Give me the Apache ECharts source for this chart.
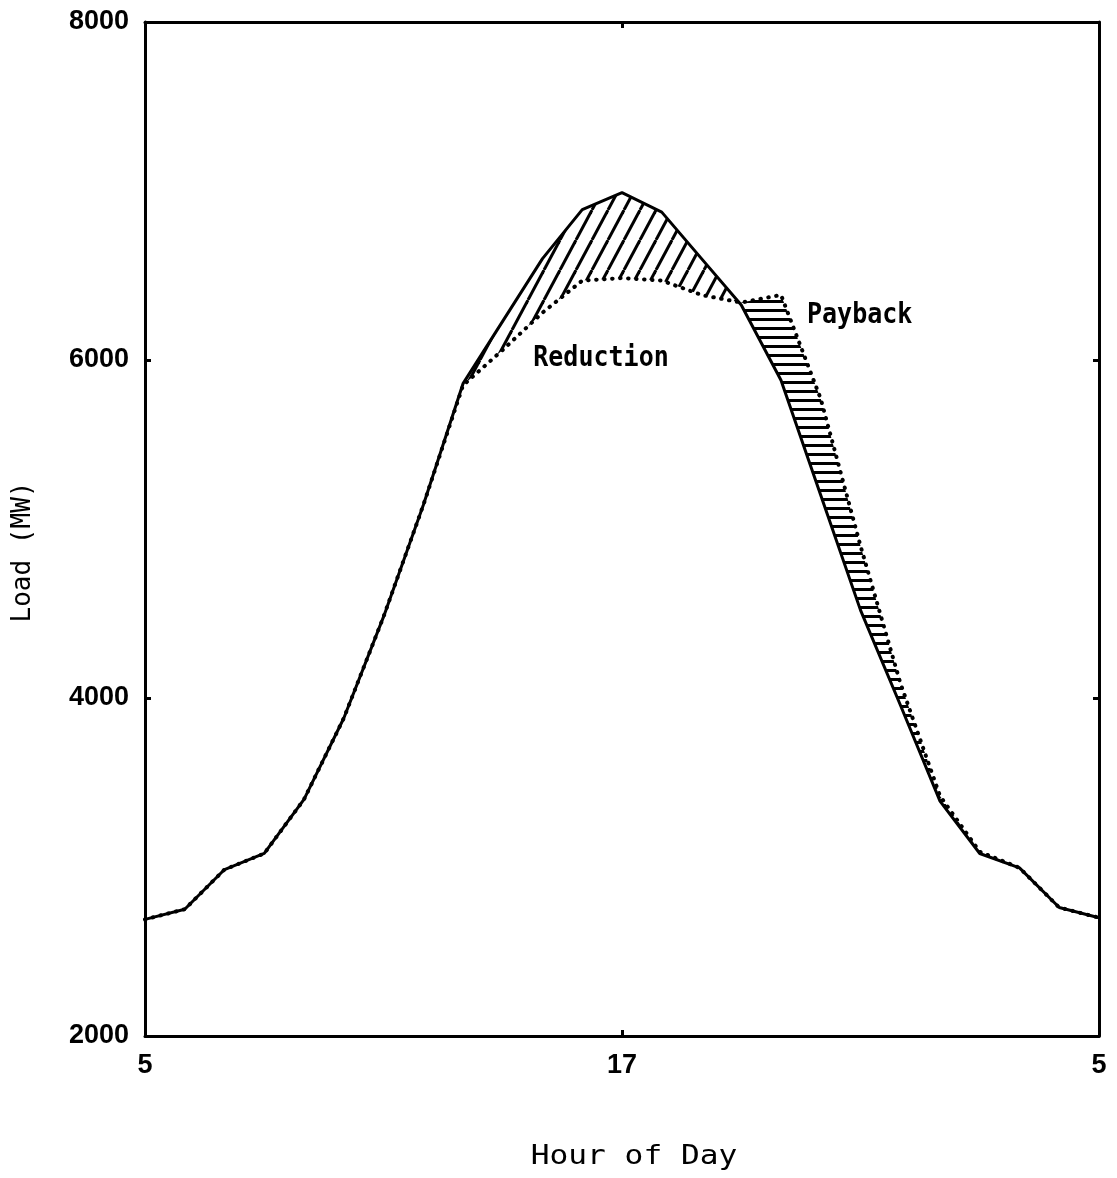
<!DOCTYPE html>
<html>
<head>
<meta charset="utf-8">
<script src="https://cdn.jsdelivr.net/npm/echarts@6/dist/echarts.min.js"></script>
<style>
html,body{margin:0;padding:0;background:#fff;}
#chart{width:1117px;height:1178px;}
</style>
</head>
<body>
<div id="chart"></div>
<script>
// Hour of day, from 5 to 5 the next day (x categories)
const hours = ['5','6','7','8','9','10','11','12','13','14','15','16','17','18','19','20','21','22','23','24','1','2','3','4','5'];
// Tick labels shown on the hour axis
const hourTickLabels = ['5','17','5'];
// Load axis ticks (MW)
const loadTicks = [2000, 4000, 6000, 8000];
// Base load (solid line), MW
const baseLoad = [2690, 2750, 2985, 3080, 3400, 3880, 4480, 5140, 5860, 6230, 6600, 6890, 6990, 6875, 6600, 6325, 5880, 5200, 4520, 3960, 3390, 3080, 2995, 2760, 2700];
// Controlled load (dotted line), MW
const controlledLoad = [2690, 2750, 2985, 3080, 3400, 3880, 4480, 5140, 5850, 6060, 6280, 6470, 6485, 6470, 6385, 6340, 6385, 5770, 4900, 4090, 3420, 3090, 2995, 2760, 2700];
// Index ranges of the reduction and payback periods
const reductionIdx = [8, 15];
const paybackIdx = [15, 21];

function diagPattern() {
  const W = 16, H = 30;
  const c = document.createElement('canvas');
  c.width = W; c.height = H;
  const ctx = c.getContext('2d');
  ctx.strokeStyle = '#000';
  ctx.lineWidth = 3;
  for (let k = -1; k <= 1; k++) {
    ctx.beginPath();
    ctx.moveTo(k * W, H);
    ctx.lineTo(k * W + W, 0);
    ctx.stroke();
  }
  return c;
}
function horizPattern() {
  const c = document.createElement('canvas');
  c.width = 8; c.height = 9;
  const ctx = c.getContext('2d');
  ctx.fillStyle = '#000';
  ctx.fillRect(0, 3, 8, 3);
  return c;
}
const diagImg = diagPattern();
const horizImg = horizPattern();

function bandRenderer(range, img) {
  return function (params, api) {
    const pts = [];
    for (let i = range[0]; i <= range[1]; i++) pts.push(api.coord([i, baseLoad[i]]));
    for (let i = range[1]; i >= range[0]; i--) pts.push(api.coord([i, controlledLoad[i]]));
    return {
      type: 'polygon',
      shape: { points: pts },
      style: { fill: { image: img, repeat: 'repeat' }, stroke: null }
    };
  };
}

const chart = echarts.init(document.getElementById('chart'), null, { renderer: 'canvas' });
const tickFont = { fontFamily: 'Liberation Sans', fontWeight: 'bold', fontSize: 27, color: '#000' };
const axisLine = { show: true, lineStyle: { color: '#000', width: 3 } };
const tickStyle = { show: true, inside: true, length: 6, lineStyle: { color: '#000', width: 3 } };
const monoFont = 'DejaVu Sans Mono';

chart.setOption({
  animation: false,
  backgroundColor: '#fff',
  grid: { left: 145, right: 18, top: 22, bottom: 142, containLabel: false },
  xAxis: [
    {
      type: 'category', data: hours, boundaryGap: false, position: 'bottom',
      axisLine: axisLine,
      axisTick: Object.assign({ interval: 11, alignWithLabel: true }, tickStyle),
      axisLabel: Object.assign({
        interval: 11, margin: 16,
        formatter: function (v, idx) { return hourTickLabels[idx / 12] !== undefined ? hourTickLabels[idx / 12] : v; }
      }, tickFont),
      splitLine: { show: false }
    },
    {
      type: 'category', data: hours, boundaryGap: false, position: 'top',
      axisLine: axisLine,
      axisTick: Object.assign({ interval: 11 }, tickStyle),
      axisLabel: { show: false },
      splitLine: { show: false }
    }
  ],
  yAxis: [
    {
      type: 'value', min: loadTicks[0], max: loadTicks[loadTicks.length - 1], interval: 2000, position: 'left',
      axisLine: axisLine, axisTick: tickStyle,
      axisLabel: Object.assign({ margin: 16, formatter: function (v) { return String(v); } }, tickFont),
      splitLine: { show: false }
    },
    {
      type: 'value', min: loadTicks[0], max: loadTicks[loadTicks.length - 1], interval: 2000, position: 'right',
      axisLine: axisLine, axisTick: tickStyle,
      axisLabel: { show: false },
      splitLine: { show: false }
    }
  ],
  series: [
    {
      name: 'Reduction', type: 'custom', xAxisIndex: 0, yAxisIndex: 0, data: [[0, 0]],
      renderItem: bandRenderer(reductionIdx, diagImg), silent: true, z: 1
    },
    {
      name: 'Payback', type: 'custom', xAxisIndex: 0, yAxisIndex: 0, data: [[0, 0]],
      renderItem: bandRenderer(paybackIdx, horizImg), silent: true, z: 1
    },
    {
      name: 'Controlled', type: 'line', data: controlledLoad, symbol: 'none', z: 2,
      lineStyle: { color: '#000', width: 4, type: [0.5, 7.5], cap: 'round' }
    },
    {
      name: 'Base', type: 'line', data: baseLoad, symbol: 'none', z: 3,
      lineStyle: { color: '#000', width: 3 }
    }
  ],
  graphic: [
    {
      type: 'text', x: 634, y: 1157, scaleX: 1.2,
      style: { text: 'Hour of Day', fontFamily: monoFont, fontSize: 26, fontWeight: 'normal', fill: '#000', align: 'center', verticalAlign: 'middle' }
    },
    {
      type: 'text', x: 23, y: 552, rotation: Math.PI / 2,
      style: { text: 'Load (MW)', fontFamily: monoFont, fontSize: 26, fontWeight: 'normal', fill: '#000', align: 'center', verticalAlign: 'middle' }
    },
    {
      type: 'text', x: 601, y: 359, scaleY: 1.15,
      style: { text: 'Reduction', fontFamily: monoFont, fontSize: 25, fontWeight: 'bold', fill: '#000', align: 'center', verticalAlign: 'middle' }
    },
    {
      type: 'text', x: 807, y: 316, scaleY: 1.15,
      style: { text: 'Payback', fontFamily: monoFont, fontSize: 25, fontWeight: 'bold', fill: '#000', align: 'left', verticalAlign: 'middle' }
    }
  ]
});
</script>
</body>
</html>
